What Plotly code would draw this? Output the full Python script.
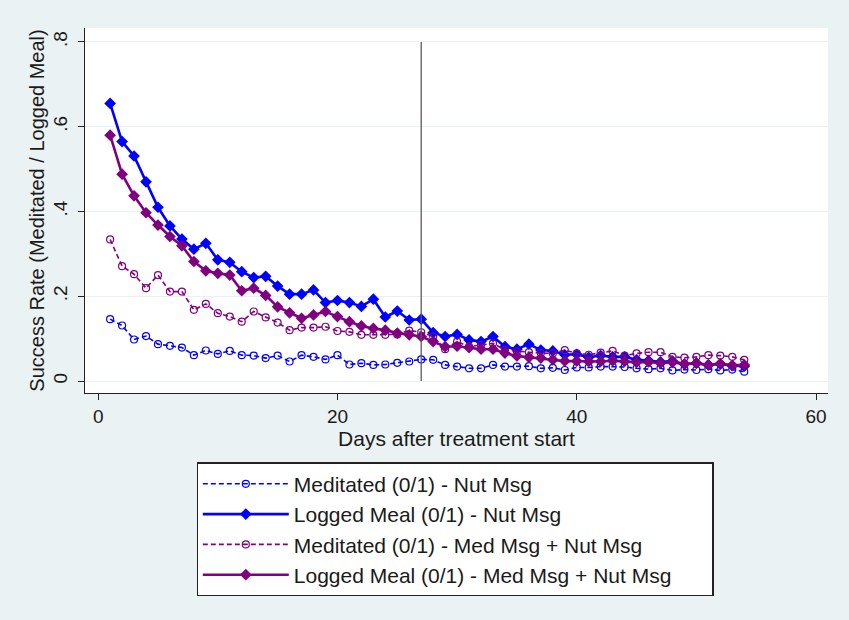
import plotly.graph_objects as go

# Days since the treatment started
days = list(range(1, 55))

# Daily success rates per arm
meditated_nut = [0.146, 0.131, 0.098, 0.106, 0.087, 0.083, 0.079, 0.061, 0.072, 0.064,
                 0.071, 0.061, 0.060, 0.054, 0.060, 0.046, 0.061, 0.057, 0.051, 0.061,
                 0.039, 0.042, 0.038, 0.039, 0.043, 0.046, 0.051, 0.050, 0.038, 0.034,
                 0.030, 0.030, 0.038, 0.034, 0.034, 0.035, 0.030, 0.031, 0.026, 0.032,
                 0.032, 0.034, 0.034, 0.033, 0.030, 0.028, 0.030, 0.025, 0.027, 0.026,
                 0.028, 0.025, 0.027, 0.022]
logged_nut = [0.655, 0.565, 0.531, 0.470, 0.410, 0.366, 0.335, 0.311, 0.325, 0.286,
              0.280, 0.258, 0.244, 0.247, 0.224, 0.205, 0.205, 0.215, 0.185, 0.190,
              0.185, 0.176, 0.193, 0.151, 0.165, 0.144, 0.146, 0.114, 0.105, 0.110,
              0.097, 0.093, 0.105, 0.081, 0.075, 0.087, 0.073, 0.071, 0.062, 0.063,
              0.056, 0.060, 0.057, 0.057, 0.050, 0.048, 0.045, 0.047, 0.040, 0.042,
              0.038, 0.040, 0.036, 0.035]
meditated_med = [0.334, 0.271, 0.252, 0.219, 0.250, 0.211, 0.211, 0.168, 0.182, 0.160,
                 0.152, 0.140, 0.164, 0.150, 0.138, 0.120, 0.126, 0.126, 0.128, 0.118,
                 0.116, 0.109, 0.109, 0.109, 0.110, 0.119, 0.115, 0.105, 0.075, 0.093,
                 0.081, 0.085, 0.089, 0.073, 0.070, 0.068, 0.066, 0.065, 0.073, 0.065,
                 0.062, 0.067, 0.071, 0.060, 0.065, 0.068, 0.068, 0.057, 0.055, 0.057,
                 0.061, 0.060, 0.057, 0.050]
logged_med = [0.580, 0.488, 0.437, 0.397, 0.368, 0.341, 0.319, 0.282, 0.260, 0.254,
              0.250, 0.213, 0.219, 0.202, 0.175, 0.161, 0.148, 0.156, 0.164, 0.152,
              0.140, 0.130, 0.124, 0.120, 0.113, 0.109, 0.105, 0.093, 0.081, 0.082,
              0.079, 0.075, 0.075, 0.066, 0.059, 0.056, 0.054, 0.050, 0.047, 0.047,
              0.046, 0.046, 0.048, 0.046, 0.044, 0.045, 0.042, 0.044, 0.040, 0.042,
              0.038, 0.041, 0.037, 0.038]

series_names = ["Meditated (0/1) - Nut Msg",
                "Logged Meal (0/1) - Nut Msg",
                "Meditated (0/1) - Med Msg + Nut Msg",
                "Logged Meal (0/1) - Med Msg + Nut Msg"]

x_ticks = [0, 20, 40, 60]
y_ticks = [0, 0.2, 0.4, 0.6, 0.8]
y_tick_labels = ["0", ".2", ".4", ".6", ".8"]
cutoff_day = 27

BLUE = "#0000FF"
PURPLE = "#800080"
BG = "#EAF2F3"
FONT = "Liberation Sans, Arial, sans-serif"

fig = go.Figure()


def add_series(y, name, color, hollow):
    if hollow:
        line = dict(color=color, width=1.6, dash="5px,3px")
        marker = dict(symbol="circle-open", size=7, color=color,
                      line=dict(color=color, width=1.2))
    else:
        line = dict(color=color, width=2.6)
        marker = dict(symbol="diamond", size=9, color=color,
                      line=dict(color=color, width=0))
    fig.add_trace(go.Scatter(x=days, y=y, name=name, mode="lines+markers",
                             line=line, marker=marker))


add_series(meditated_nut, series_names[0], BLUE, True)
add_series(logged_nut, series_names[1], BLUE, False)
add_series(meditated_med, series_names[2], PURPLE, True)
add_series(logged_med, series_names[3], PURPLE, False)

fig.add_shape(type="line", x0=cutoff_day, x1=cutoff_day, y0=0, y1=0.8,
              xref="x", yref="y", line=dict(color="#5A5A5A", width=1.3),
              layer="above")

fig.update_layout(
    width=849, height=620,
    margin=dict(l=85, r=21, t=28, b=227),
    paper_bgcolor=BG,
    plot_bgcolor="white",
    font=dict(family=FONT, size=19, color="#1A1A1A"),
    showlegend=True,
    legend=dict(
        orientation="h",
        x=0.498, y=-0.19, xanchor="center", yanchor="top",
        bgcolor="white", bordercolor="#222222", borderwidth=1.3,
        font=dict(family=FONT, size=21, color="#1A1A1A"),
        itemwidth=86, entrywidth=413,
    ),
    xaxis=dict(
        range=[-1.1, 61.0],
        tickvals=x_ticks,
        ticks="outside", ticklen=6, tickcolor="#222222",
        showgrid=False, zeroline=False,
        showline=True, linecolor="#222222", linewidth=1.3,
        tickfont=dict(size=19),
        title=dict(text="Days after treatment start", font=dict(size=21), standoff=0),
    ),
    yaxis=dict(
        range=[-0.0283, 0.833],
        tickvals=y_ticks, ticktext=y_tick_labels,
        tickangle=-90,
        ticks="outside", ticklen=6, tickcolor="#222222",
        ticklabelstandoff=3,
        showgrid=True, gridcolor=BG, gridwidth=1.3,
        zeroline=False,
        showline=True, linecolor="#222222", linewidth=1.3,
        tickfont=dict(size=19),
        title=dict(text="Success Rate (Meditated / Logged Meal)",
                   font=dict(size=20), standoff=0),
    ),
)

fig.write_html("out.html")
